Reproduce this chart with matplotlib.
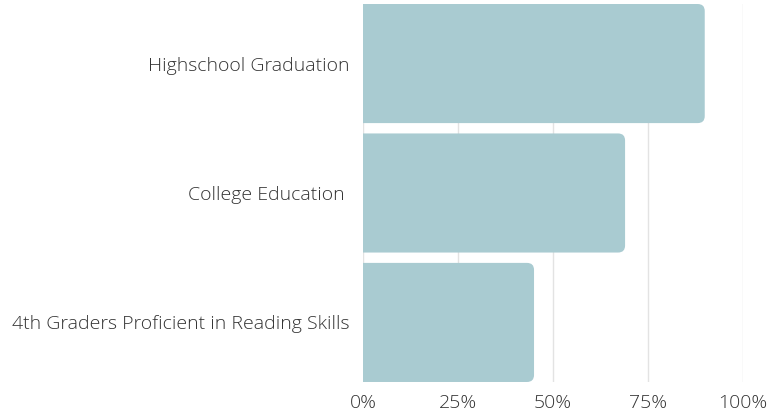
import matplotlib
matplotlib.use("Agg")
import matplotlib.pyplot as plt
from matplotlib.patches import FancyBboxPatch
from matplotlib.transforms import IdentityTransform

categories = ["Highschool Graduation", "College Education ", "4th Graders Proficient in Reading Skills"]
values = [90, 69, 45]
xticks = [0, 25, 50, 75, 100]
xtick_labels = ["0%", "25%", "50%", "75%", "100%"]

plt.rcParams["font.family"] = ["Open Sans", "DejaVu Sans"]

fig = plt.figure(figsize=(7.83, 4.13), dpi=100)
ax = fig.add_axes([0.464, 0.0751, 0.4845, 0.9152])

ypos = list(range(len(categories)))
bars = ax.barh(ypos, values, height=0.92, color="none")
ax.set_xlim(0, 100)
ax.set_ylim(len(categories) - 0.54, -0.46)

ax.set_xticks(xticks)
ax.set_xticklabels(xtick_labels)
ax.set_yticks(ypos)
ax.set_yticklabels(categories)
ax.tick_params(length=0, labelsize=14, colors="#333333")
ax.tick_params(axis="y", pad=10)
ax.tick_params(axis="x", pad=9)
for lab in ax.get_xticklabels() + ax.get_yticklabels():
    lab.set_fontweight("light")

ax.grid(axis="x", color="#e3e3e3", linewidth=1)
ax.set_axisbelow(True)
for s in ax.spines.values():
    s.set_visible(False)

# rounded right ends, drawn in pixel space so the corners stay circular
r = 7
fig.canvas.draw()
for b in bars:
    (x0, y0), (x1, y1) = ax.transData.transform([(b.get_x(), b.get_y()), (b.get_x() + b.get_width(), b.get_y() + b.get_height())])
    lo, hi = min(y0, y1), max(y0, y1)
    p = FancyBboxPatch((x0 - 2 * r, lo), (x1 - x0) + 2 * r, hi - lo,
                       boxstyle=f"round,pad=0,rounding_size={r}",
                       transform=IdentityTransform(), facecolor="#a9cbd1",
                       edgecolor="none", zorder=2)
    p.set_clip_path(ax.patch)
    ax.add_artist(p)

fig.savefig("out.png", dpi=100)
